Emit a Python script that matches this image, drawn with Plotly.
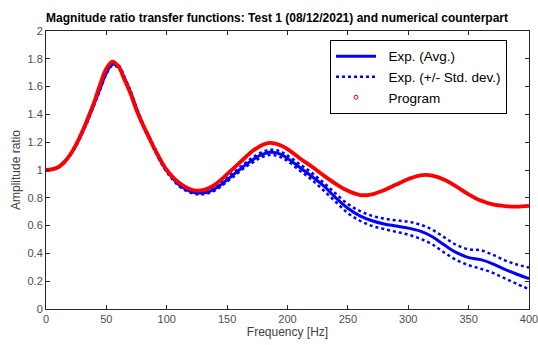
import plotly.graph_objects as go

freq = list(range(0, 201, 5)) + list(range(210, 401, 10))

exp_avg = [1.00, 1.005, 1.02, 1.055, 1.11, 1.18, 1.27, 1.37, 1.48, 1.59, 1.70, 1.76, 1.745, 1.66, 1.56,
           1.44, 1.33, 1.24, 1.15, 1.065, 0.995, 0.94, 0.895, 0.865, 0.845, 0.835, 0.835, 0.845, 0.865,
           0.895, 0.93, 0.965, 1.00, 1.035, 1.065, 1.095, 1.115, 1.128, 1.125, 1.11, 1.085,
           1.02, 0.955, 0.885, 0.80, 0.725, 0.67, 0.635, 0.612, 0.597, 0.582, 0.56, 0.52, 0.46, 0.405,
           0.37, 0.355, 0.325, 0.285, 0.25, 0.218]

exp_upper = [1.00, 1.006, 1.022, 1.058, 1.115, 1.187, 1.278, 1.38, 1.49, 1.60, 1.71, 1.77, 1.755, 1.67, 1.57,
             1.45, 1.34, 1.25, 1.16, 1.075, 1.005, 0.95, 0.905, 0.875, 0.855, 0.845, 0.845, 0.855, 0.877,
             0.907, 0.943, 0.98, 1.015, 1.05, 1.083, 1.112, 1.133, 1.146, 1.143, 1.13, 1.105,
             1.043, 0.98, 0.908, 0.83, 0.755, 0.705, 0.67, 0.65, 0.638, 0.628, 0.607, 0.57, 0.515, 0.46,
             0.43, 0.423, 0.39, 0.35, 0.32, 0.298]

exp_lower = [1.00, 1.004, 1.018, 1.052, 1.105, 1.173, 1.262, 1.36, 1.47, 1.58, 1.69, 1.75, 1.735, 1.65, 1.55,
             1.43, 1.32, 1.23, 1.14, 1.055, 0.985, 0.93, 0.885, 0.855, 0.835, 0.825, 0.825, 0.835, 0.853,
             0.883, 0.917, 0.95, 0.985, 1.02, 1.047, 1.077, 1.097, 1.108, 1.105, 1.09, 1.065,
             0.997, 0.93, 0.852, 0.77, 0.69, 0.635, 0.598, 0.575, 0.555, 0.535, 0.505, 0.465, 0.405, 0.352,
             0.315, 0.29, 0.26, 0.22, 0.18, 0.142]

program = [1.00, 1.005, 1.02, 1.055, 1.11, 1.185, 1.275, 1.38, 1.49, 1.62, 1.73, 1.78, 1.745, 1.65, 1.55,
           1.43, 1.33, 1.24, 1.15, 1.07, 1.00, 0.95, 0.91, 0.88, 0.86, 0.852, 0.855, 0.87, 0.895,
           0.93, 0.97, 1.01, 1.05, 1.09, 1.13, 1.16, 1.183, 1.195, 1.19, 1.175, 1.15,
           1.085, 1.025, 0.96, 0.90, 0.85, 0.82, 0.825, 0.855, 0.895, 0.935, 0.962, 0.96, 0.93, 0.88,
           0.825, 0.78, 0.752, 0.74, 0.736, 0.742]

x_ticks = [0, 50, 100, 150, 200, 250, 300, 350, 400]
y_ticks = [0, 0.2, 0.4, 0.6, 0.8, 1, 1.2, 1.4, 1.6, 1.8, 2]
y_tick_labels = ["0", "0.2", "0.4", "0.6", "0.8", "1", "1.2", "1.4", "1.6", "1.8", "2"]

BLUE = "rgb(0,0,255)"
RED = "rgb(255,0,0)"
FONT = "Liberation Sans, Arial"
PAD = "\u00a0\u00a0"

fig = go.Figure()
fig.add_trace(go.Scatter(x=freq, y=exp_avg, mode="lines", name=PAD + "Exp. (Avg.)",
                         line=dict(color=BLUE, width=3, shape="spline")))
fig.add_trace(go.Scatter(x=freq, y=exp_upper, mode="lines", name=PAD + "Exp. (+/- Std. dev.)",
                         line=dict(color=BLUE, width=2.5, dash="dot", shape="spline")))
fig.add_trace(go.Scatter(x=freq, y=exp_lower, mode="lines", showlegend=False,
                         line=dict(color=BLUE, width=2.5, dash="dot", shape="spline")))
fig.add_trace(go.Scatter(x=freq, y=program, mode="lines", showlegend=False,
                         line=dict(color=RED, width=3.8, shape="spline")))
fig.add_trace(go.Scatter(x=[None], y=[None], mode="markers", name=PAD + "Program",
                         marker=dict(color=RED, size=4, symbol="circle-open", line=dict(width=1))))

axis_common = dict(showgrid=False, zeroline=False, showline=True, mirror="ticks",
                   linecolor="#262626", linewidth=1, ticks="inside", ticklen=4,
                   tickcolor="#262626", automargin=False, ticklabeloverflow="allow",
                   tickfont=dict(family=FONT, size=11, color="#4d4d4d"))

fig.update_layout(
    width=538, height=345,
    margin=dict(l=46, r=9, t=31, b=36),
    paper_bgcolor="white", plot_bgcolor="white",
    title=dict(text="<b>Magnitude ratio transfer functions: Test 1 (08/12/2021) and numerical counterpart</b>",
               x=0.515, xanchor="center", yref="container", y=0.948, yanchor="middle",
               font=dict(family=FONT, size=12, color="black")),
    xaxis=dict(range=[0, 400], tickvals=x_ticks,
               title=dict(text="Frequency [Hz]", standoff=2,
                          font=dict(family=FONT, size=12, color="#404040")),
               **axis_common),
    yaxis=dict(range=[0, 2], tickvals=y_ticks, ticktext=y_tick_labels,
               title=dict(text="Amplitude ratio", standoff=4,
                          font=dict(family=FONT, size=12, color="#404040")),
               **axis_common),
    legend=dict(x=0.588, y=0.968, xanchor="left", yanchor="top",
                bgcolor="white", bordercolor="black", borderwidth=1,
                font=dict(family=FONT, size=13.5, color="black"),
                tracegroupgap=0, itemwidth=40),
    showlegend=True,
)

fig.write_html("out.html", config={"displayModeBar": False},
               post_script="document.body.style.margin='0px';document.body.style.overflow='hidden';")
